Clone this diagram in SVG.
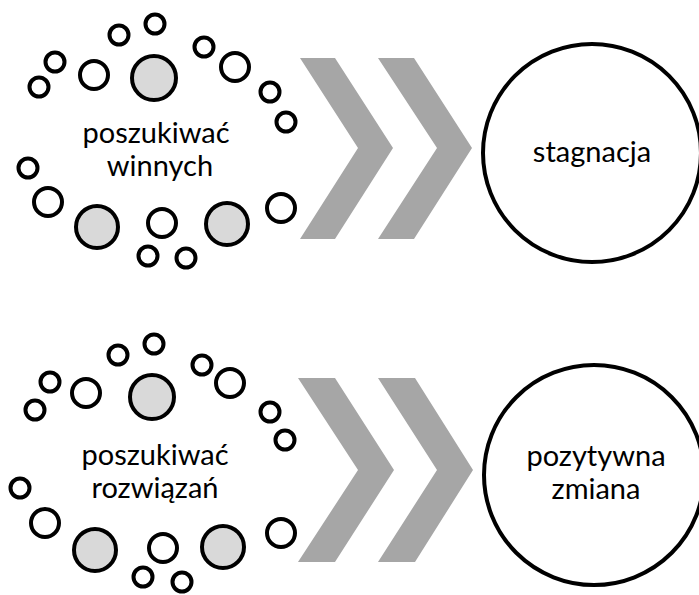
<svg xmlns="http://www.w3.org/2000/svg" width="699" height="595" viewBox="0 0 699 595">
<style>
.s,.m{fill:#fff;stroke:#000;stroke-width:4}
.g{fill:#d9d9d9;stroke:#000;stroke-width:4}
.big{fill:#fff;stroke:#000;stroke-width:4}
.chev{fill:#a6a6a6}
text{font-family:Lato,"Open Sans","Liberation Sans",sans-serif;font-size:29px;fill:#000;text-anchor:middle}
</style>
<rect width="699" height="595" fill="#fff"/>
<g id="cluster-top">
<circle class="s" cx="155" cy="24" r="9.5"/>
<circle class="s" cx="119" cy="35" r="9.5"/>
<circle class="s" cx="55" cy="62" r="9.5"/>
<circle class="s" cx="39" cy="87" r="9.5"/>
<circle class="m" cx="94" cy="75" r="14"/>
<circle class="g" cx="154" cy="78" r="22"/>
<circle class="s" cx="204" cy="47" r="9.5"/>
<circle class="m" cx="235" cy="67" r="14"/>
<circle class="s" cx="270" cy="92" r="9.5"/>
<circle class="s" cx="286" cy="122" r="9.5"/>
<circle class="s" cx="28" cy="168" r="9.5"/>
<circle class="m" cx="48" cy="202" r="14"/>
<circle class="g" cx="97" cy="227" r="21"/>
<circle class="m" cx="162" cy="223" r="14"/>
<circle class="s" cx="148" cy="256" r="9.5"/>
<circle class="s" cx="186" cy="258" r="9.5"/>
<circle class="g" cx="227" cy="224" r="21"/>
<circle class="m" cx="281" cy="208" r="14"/>
<text x="156" y="143">poszukiwać</text>
<text x="160" y="176">winnych</text>
</g>
<g id="cluster-bottom">
<circle class="s" cx="154" cy="344" r="9.5"/>
<circle class="s" cx="118" cy="355" r="9.5"/>
<circle class="s" cx="50" cy="382" r="9.5"/>
<circle class="s" cx="35" cy="410" r="9.5"/>
<circle class="m" cx="86" cy="393" r="14"/>
<circle class="g" cx="152" cy="397" r="22"/>
<circle class="s" cx="202" cy="365" r="9.5"/>
<circle class="m" cx="230" cy="383" r="14"/>
<circle class="s" cx="270" cy="412" r="9.5"/>
<circle class="s" cx="285" cy="440" r="9.5"/>
<circle class="s" cx="20" cy="488" r="9.5"/>
<circle class="m" cx="45" cy="523" r="14"/>
<circle class="g" cx="95" cy="550" r="21"/>
<circle class="m" cx="163" cy="548" r="14"/>
<circle class="s" cx="143" cy="577" r="9.5"/>
<circle class="s" cx="182" cy="582" r="9.5"/>
<circle class="g" cx="223" cy="547" r="21"/>
<circle class="m" cx="281" cy="533" r="14"/>
<text x="155" y="465">poszukiwać</text>
<text x="155" y="498">rozwiązań</text>
</g>
<g id="connectors">
<polygon class="chev" points="300,58 335,58 393,148 335,239 300,239 358,148"/>
<polygon class="chev" points="378,58 414,58 472,148 414,239 378,239 437,148"/>
<polygon class="chev" points="298,378 335,378 394,470 335,562 298,562 358,470"/>
<polygon class="chev" points="378,378 415,378 473,470 415,562 378,562 437,470"/>
</g>
<g id="result-top">
<circle class="big" cx="592" cy="153" r="109"/>
<text x="592" y="162">stagnacja</text>
</g>
<g id="result-bottom">
<circle class="big" cx="594" cy="475" r="110"/>
<text x="596" y="466">pozytywna</text>
<text x="596" y="499">zmiana</text>
</g>
</svg>
